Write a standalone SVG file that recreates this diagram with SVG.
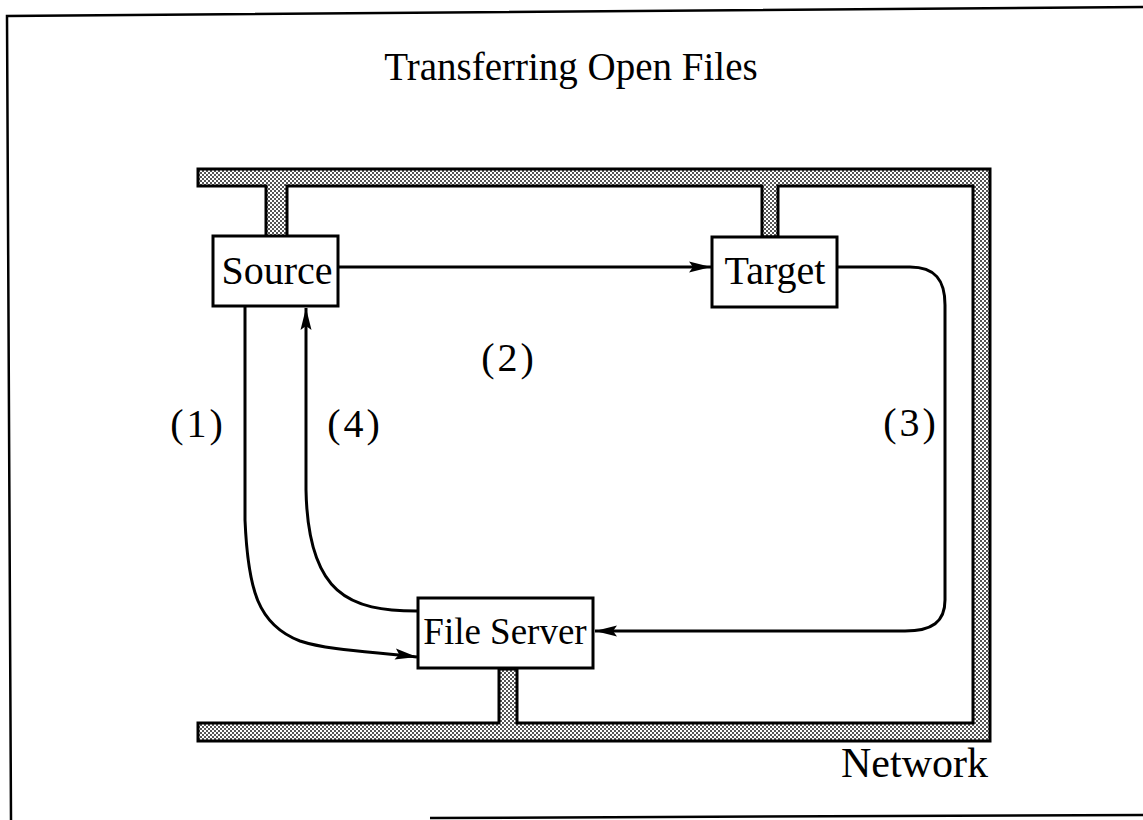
<svg xmlns="http://www.w3.org/2000/svg" width="1143" height="820" viewBox="0 0 1143 820">
  <defs>
    <!-- stippled fill used for the network cable -->
    <pattern id="stipple" width="4" height="4" patternUnits="userSpaceOnUse">
      <rect width="4" height="4" fill="#ffffff"/>
      <rect x="0" y="0" width="2" height="2" fill="#555"/>
      <rect x="2" y="2" width="2" height="2" fill="#555"/>
    </pattern>
    <marker id="arrow" markerUnits="userSpaceOnUse" viewBox="0 0 22 12" refX="22" refY="6" markerWidth="22" markerHeight="12" orient="auto">
      <path d="M0,0.5 L22,6 L0,11.5 L4,6 Z" fill="#000"/>
    </marker>
  </defs>
  <style>
    .frame { fill: none; stroke: #000; stroke-width: 2.5; }
    .box { fill: #fff; stroke: #000; stroke-width: 3; }
    .net { fill: url(#stipple); stroke: #000; stroke-width: 3; stroke-linejoin: miter; }
    .flow { fill: none; stroke: #000; stroke-width: 3; marker-end: url(#arrow); }
    text { font-family: "Liberation Serif", "Times New Roman", serif; fill: #000; }
    .title { font-size: 39px; text-anchor: middle; }
    .name { font-size: 40px; text-anchor: middle; }
    .step { font-size: 40px; text-anchor: middle; letter-spacing: 3px; }
  </style>

  <rect width="1143" height="820" fill="#fff"/>

  <!-- page frame -->
  <g id="frame">
    <polyline class="frame" points="1143,7 7,16 11,820"/>
    <line class="frame" x1="430" y1="818" x2="1143" y2="815"/>
  </g>

  <text class="title" x="571" y="80">Transferring Open Files</text>

  <!-- network cable with drops to each machine -->
  <g id="network">
    <path class="net" d="M198,169 H990 V741 H198 V723 H499 V669 H517 V723 H973 V186 H778 V237 H762 V186 H287 V237 H266 V186 H198 Z"/>
    <text class="name" x="988" y="777" style="text-anchor:end; font-size:42px">Network</text>
  </g>

  <!-- message flow -->
  <g id="connectors">
    <path id="c1" class="flow" d="M245,307 V520 C248,590 258,625 300,641 C330,651 380,652 417,657"/>
    <path id="c2" class="flow" d="M339,267 H711"/>
    <path id="c3" class="flow" d="M838,267 H910 C935,267 945,280 945,305 V600 C945,622 932,631 905,631 H595"/>
    <path id="c4" class="flow" d="M417,611 C350,611 308,595 306,490 V308"/>
    <text class="step" x="198" y="437">(1)</text>
    <text class="step" x="509" y="371">(2)</text>
    <text class="step" x="911" y="436">(3)</text>
    <text class="step" x="355" y="437">(4)</text>
  </g>

  <g id="source">
    <rect class="box" x="213" y="236" width="125" height="70"/>
    <text class="name" x="277" y="284">Source</text>
  </g>

  <g id="target">
    <rect class="box" x="712" y="237" width="125" height="70"/>
    <text class="name" x="775" y="284">Target</text>
  </g>

  <g id="file-server">
    <rect class="box" x="418" y="598" width="175" height="70"/>
    <text class="name" x="505" y="644" style="font-size:37px">File Server</text>
  </g>
</svg>
